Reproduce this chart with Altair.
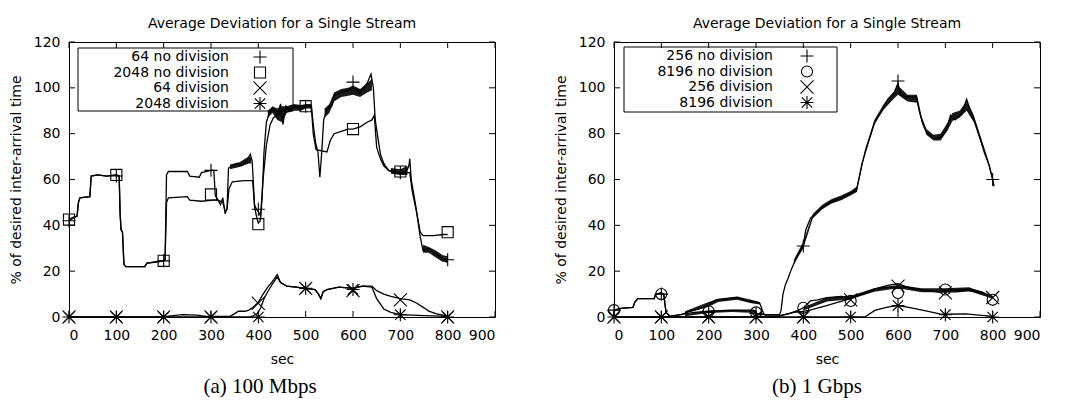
import altair as alt
import pandas as pd

# ---------------- data ----------------
X_TICKS = [0, 100, 200, 300, 400, 500, 600, 700, 800, 900]
Y_TICKS = [0, 20, 40, 60, 80, 100, 120]
MARK_T = [0, 100, 200, 300, 400, 500, 600, 700, 800]

# (a) 100 Mbps
A_64_NODIV = [(0,42),(8,43),(17,44),(20,50),(23,52),(44,52.5),(47,61.5),(60,62),(80,61.5),(100,62),(106,61.5),
              (108,45),(110,38),(113,37),(116,23),(120,22),(160,22),(165,23.5),(183,24),(200,24.5),(203,25),
              (206,62),(210,63.5),(250,63.5),(255,61.5),(275,61),(280,63),(300,64),(306,64),(309,53),(315,51),
              (320,49),(325,52),(330,45),(334,48),(337,65),(345,66),(355,67),(365,66),(375,68),(383,71),(387,68),
              (392,49),(396,47),(400,46),(405,44),(408,52),(412,72),(417,85),(423,89),(430,91),(440,88),(447,93),
              (452,84),(458,92),(465,90),(475,92),(490,91),(500,92),(512,92),(516,84),(521,76),(526,72),(530,61),
              (534,72),(538,86),(545,91),(555,92),(562,97),(575,98),(590,99),(600,100),(615,98),(630,102),
              (638,106),(643,100),(647,86),(652,79),(658,71),(665,67),(675,64),(690,63),(700,63),(712,63),
              (718,66),(720,69),(723,60),(733,48),(742,35),(748,29),(760,30),(770,28),(780,27),(790,25),
              (797,24),(800,25)]
A_2048_NODIV = [(0,42.5),(8,43.5),(17,44),(20,50),(23,52),(44,52.5),(47,61.5),(60,62),(80,61.5),(100,62),
                (106,61.5),(108,45),(110,38),(113,37),(116,23),(120,22),(160,22),(165,23.5),(183,24),(200,24.5),
                (203,25),(206,50),(210,52),(250,52.5),(255,51),(280,50.5),(305,51),(315,51),(325,50),(330,46),
                (334,47),(338,56),(345,59),(370,59.5),(388,59.5),(392,48),(396,44),(400,41),(404,42),(410,60),
                (417,75),(425,84),(432,87),(440,88),(450,90),(465,91),(480,92),(500,92),(512,92),(516,80),
                (522,73),(545,72),(552,77),(560,80),(575,81),(590,82),(600,82),(615,83),(630,85),(640,86),
                (645,88),(650,74),(658,69),(665,66),(675,64),(690,63),(700,63),(712,63),(720,63),(725,55),
                (735,45),(742,37),(748,35.5),(770,35.5),(790,36),(800,36)]
A_64_DIV = [(0,0),(200,0),(215,0.5),(240,1),(270,0.8),(290,0.3),(340,0.3),(350,1.5),(358,2.5),(372,2.5),
            (380,3),(390,4.5),(400,6.5),(410,10),(420,13),(430,15.5),(440,18.5),(447,15),(460,13.5),(480,13),
            (500,12.5),(520,12),(527,10),(532,8),(537,11),(545,12),(570,13),(600,12.5),(620,13.5),(640,13.5),
            (650,11.5),(665,10),(680,9),(700,8),(720,7.5),(735,6),(750,4),(760,2.6),(780,1.2),(800,0.4)]
A_2048_DIV = [(0,0),(380,0),(390,0.5),(398,1.5),(405,4),(412,8),(420,11),(430,14.5),(440,17.5),(447,15),
              (460,13.5),(480,13),(500,12.5),(520,12),(527,10),(532,8),(537,11),(545,12),(570,13),(600,12.5),
              (620,13.5),(640,13),(650,8),(665,3.5),(680,2),(700,1),(750,0.6),(800,0.3)]
A_MARK_64_NODIV = [42, 61.5, 24.5, 64, 47, 92, 102.5, 63, 25]
A_MARK_2048_NODIV = [42.5, 62, 24.5, 53.5, 40.5, 92, 82, 63.5, 37]
A_MARK_64_DIV = [0, 0, 0, 0, 6, 12.5, 11.5, 7.5, 0]
A_MARK_2048_DIV = [0, 0, 0, 0, 0, 12.5, 12, 1, 0]
# spread of the jittery stretches (sec, low, high)
A_NOISE = [
    [(340,64.5,66.5),(360,65.5,67.5),(380,67,70),(385,67,69.5)],
    [(420,87,90),(430,89,92),(440,86,91),(450,85,92),(460,89,92),(475,90,93),(490,90,92.5),(500,91,93),(512,91,93)],
    [(540,87,91),(550,89,93),(560,94,98),(575,96,99.5),(590,96.5,100),(600,97,101),(615,96,99.5),(630,98,102),
     (640,99,104)],
    [(680,62.5,65),(700,62,64.5),(715,62,66)],
    [(748,28,31.5),(760,28,30.5),(775,26,29),(790,24,27),(800,24.5,26.5)],
]

# (b) 1 Gbps
B_256_NODIV = [(0,3),(15,3.8),(40,4.2),(44,6.5),(50,8),(85,8),(88,10),(100,10.5),(105,10),(110,2),(118,0.3),
               (140,1),(170,2),(200,2.5),(250,3),(295,3),(305,1),(350,1),(353,3),(357,10),(362,14),(368,17),
               (375,21),(388,27),(400,31),(405,38),(415,43),(429,46),(442,48),(456,50),(476,51.6),(497,53.8),
               (512,55),(517,60),(524,67),(537,76),(551,85),(565,90),(578,95),(592,98),(600,102),(605,97),
               (619,96),(639,96),(646,89),(653,84),(660,81),(673,78),(687,78),(701,81),(711,88),(721,86),
               (735,89),(745,95),(750,92),(758,88),(769,81),(782,72),(793,66),(800,60),(803,57)]
B_8196_NODIV = [(0,3),(15,3.8),(40,4.2),(44,6.5),(50,8),(85,8),(88,10),(100,10.5),(105,10),(110,2),(118,0.3),
                (142,1),(160,2.5),(180,3.5),(200,5),(215,7.5),(240,8),(261,8.5),(280,7),(300,6.5),(308,6),
                (316,1.5),(322,0.5),(350,0.5),(370,1.5),(390,3),(400,4),(415,7),(430,7.5),(450,8.5),(480,9),
                (500,8.5),(524,10),(551,12.3),(578,13),(600,12.5),(620,13),(654,11.6),(688,11),(702,12),
                (723,11.6),(750,12.3),(777,11),(800,8.5)]
B_256_DIV = [(0,0),(340,0),(360,1),(380,2),(400,2.5),(414,3),(449,5),(483,7),(500,8),(517,9.4),(551,12.3),
             (578,13.8),(600,14.5),(620,13),(654,11.6),(688,10.9),(702,11),(723,11),(750,11.5),(777,10.5),(800,8.5)]
B_8196_DIV = [(0,0),(530,0),(551,2.9),(578,4.3),(600,5),(620,4.3),(654,2.9),(688,1.4),(700,1.2),(743,1.4),
              (777,0.7),(800,0.3)]
B_MARK_256_NODIV = [3, 10, 2, 1.5, 31, None, 103, None, 60]
B_MARK_8196_NODIV = [3, 10, 2.5, 2, 4, 7, 10.5, 12, 7.5]
B_MARK_256_DIV = [0, 0, 0, 0, 0, 7.5, 13.5, 10.5, 8.5]
B_MARK_8196_DIV = [0, 0, 0, 0, 0, 0, 5, 1, 0]
B_NOISE = [
    [(150,1.5,2.5),(200,4.5,6.5),(220,6.5,8),(260,7.5,9),(290,6,7.5),(308,5.5,6.5)],
    [(150,0.3,1.2),(200,1.8,2.8),(250,2.2,3.2),(300,1.8,2.8)],
    [(380,23,25),(400,30,33),(420,43,45),(440,47,49),(460,49.5,51.5),(480,51,53),(500,53,55),(513,54.5,57),
     (530,71,73),(550,84,86),(570,90.5,93),(590,95,98),(600,97,101),(620,94,97),(640,93.5,97),(650,85,87.5),
     (660,79.5,82),(675,77,79.5),(690,77,80),(705,81.5,85),(715,85.5,89),(730,87,90),(745,90,94),(760,85,88),
     (775,76,78.5),(790,67,69),(800,59,61)],
    [(400,2.8,4.3),(450,6.8,8.5),(500,7.8,9.3),(550,11,12.5),(600,12.5,14),(650,10.8,12.5),(700,10.8,12.5),
     (750,11.3,13),(800,8,9.3)],
]

A_NAMES = ["64 no division", "2048 no division", "64 division", "2048 division"]
B_NAMES = ["256 no division", "8196 no division", "256 division", "8196 division"]
TITLE = "Average Deviation for a Single Stream"

# ---------------- styling ----------------
W, H = 426, 275
FONT = "DejaVu Sans"
PLUS = "M-1,0L1,0M0,-1L0,1"
BOX = "M-0.85,-0.85L0.85,-0.85L0.85,0.85L-0.85,0.85Z"
XCROSS = "M-1,-1L1,1M-1,1L1,-1"
STAR = "M-1,0L1,0M0,-1L0,1M-0.8,-0.8L0.8,0.8M-0.8,0.8L0.8,-0.8"
CIRCLE = "M-0.85,0A0.85,0.85,0,1,0,0.85,0A0.85,0.85,0,1,0,-0.85,0Z"
MSIZE = 170


def panel(names, curves, marks, shapes, noise, caption, cap_x, leg):
    rows = []
    for n, c in zip(names, curves):
        for t, v in c:
            rows.append({"series": n, "t": t, "v": v})
    df_l = pd.DataFrame(rows)

    xs = alt.Scale(domain=[0, 900], nice=False, zero=False)
    ys = alt.Scale(domain=[0, 120], nice=False)
    lines = alt.Chart(df_l).mark_line(color="black", strokeWidth=1.3, clip=True).encode(
        x=alt.X("t:Q", scale=xs, axis=alt.Axis(values=X_TICKS, title="sec", labelPadding=11,
                                               titlePadding=10, format="d")),
        y=alt.Y("v:Q", scale=ys, axis=alt.Axis(values=Y_TICKS, title="% of desired inter-arrival time",
                                               labelPadding=9, titlePadding=10)),
        detail="series:N",
    )
    layers = [lines]
    for band in noise:
        dfb = pd.DataFrame([{"t": t, "lo": lo, "hi": hi} for t, lo, hi in band])
        layers.append(alt.Chart(dfb).mark_area(color="black", opacity=0.9).encode(
            x="t:Q", y="lo:Q", y2="hi:Q"))
    for n, m, s in zip(names, marks, shapes):
        pairs = [(t, v) for t, v in zip(MARK_T, m) if v is not None]
        dfp = pd.DataFrame({"t": [p[0] for p in pairs], "v": [p[1] for p in pairs]})
        layers.append(alt.Chart(dfp).mark_point(shape=s, filled=False, color="black", strokeWidth=1.1,
                                                size=MSIZE, opacity=1).encode(x="t:Q", y="v:Q"))
    dxt = pd.DataFrame({"t": X_TICKS})
    dyt = pd.DataFrame({"v": Y_TICKS})
    layers += [
        alt.Chart(dxt).mark_rule(color="black", strokeWidth=1).encode(x="t:Q", y=alt.value(H), y2=alt.value(H - 6)),
        alt.Chart(dxt).mark_rule(color="black", strokeWidth=1).encode(x="t:Q", y=alt.value(0), y2=alt.value(6)),
        alt.Chart(dyt).mark_rule(color="black", strokeWidth=1).encode(y="v:Q", x=alt.value(0), x2=alt.value(6)),
        alt.Chart(dyt).mark_rule(color="black", strokeWidth=1).encode(y="v:Q", x=alt.value(W - 6), x2=alt.value(W)),
    ]

    one = pd.DataFrame({"a": [0]})
    bx0, bx1, by0, by1, tx, mx, ry = leg
    layers.append(alt.Chart(one).mark_rect(fill="white", fillOpacity=0, stroke="black", strokeWidth=1).encode(
        x=alt.value(bx0), x2=alt.value(bx1), y=alt.value(by0), y2=alt.value(by1)))
    for i, (n, s) in enumerate(zip(names, shapes)):
        layers.append(alt.Chart(one).mark_text(align="right", baseline="middle", font=FONT, fontSize=14,
                                               color="black").encode(
            x=alt.value(tx), y=alt.value(ry[i]), text=alt.value(n)))
        layers.append(alt.Chart(one).mark_point(shape=s, filled=False, color="black", strokeWidth=1.1,
                                                size=MSIZE, opacity=1).encode(
            x=alt.value(mx), y=alt.value(ry[i])))
    layers.append(alt.Chart(one).mark_text(align="center", baseline="middle", font="Liberation Serif",
                                           fontSize=21, color="black").encode(
        x=alt.value(cap_x), y=alt.value(H + 70), text=alt.value(caption)))
    return alt.layer(*layers).properties(width=W, height=H,
                                         title=alt.TitleParams(TITLE, offset=4))


left = panel(A_NAMES, [A_64_NODIV, A_2048_NODIV, A_64_DIV, A_2048_DIV],
             [A_MARK_64_NODIV, A_MARK_2048_NODIV, A_MARK_64_DIV, A_MARK_2048_DIV],
             [PLUS, BOX, XCROSS, STAR], A_NOISE, "(a) 100 Mbps", 191,
             (9, 224, 6, 69, 160, 191, [15, 30.5, 46, 61.5]))
right = panel(B_NAMES, [B_256_NODIV, B_8196_NODIV, B_256_DIV, B_8196_DIV],
              [B_MARK_256_NODIV, B_MARK_8196_NODIV, B_MARK_256_DIV, B_MARK_8196_DIV],
              [PLUS, CIRCLE, XCROSS, STAR], B_NOISE, "(b) 1 Gbps", 203,
              (10, 223, 5, 70, 159, 193, [14, 29.5, 45, 60.5]))

chart = alt.hconcat(left, right, spacing=119, bounds="flush").properties(
    padding={"left": 8, "top": 16, "right": 5, "bottom": 2}
).configure_view(stroke="black", strokeWidth=1).configure_axis(
    labelFont=FONT, labelFontSize=14, titleFont=FONT, titleFontSize=14, titleFontWeight="normal",
    labelColor="black", titleColor="black", grid=False, domain=False, ticks=False, tickSize=0,
).configure_title(font=FONT, fontSize=14, fontWeight="normal", color="black", anchor="middle")

chart.save("out.html", embed_options={"renderer": "svg", "actions": False})
